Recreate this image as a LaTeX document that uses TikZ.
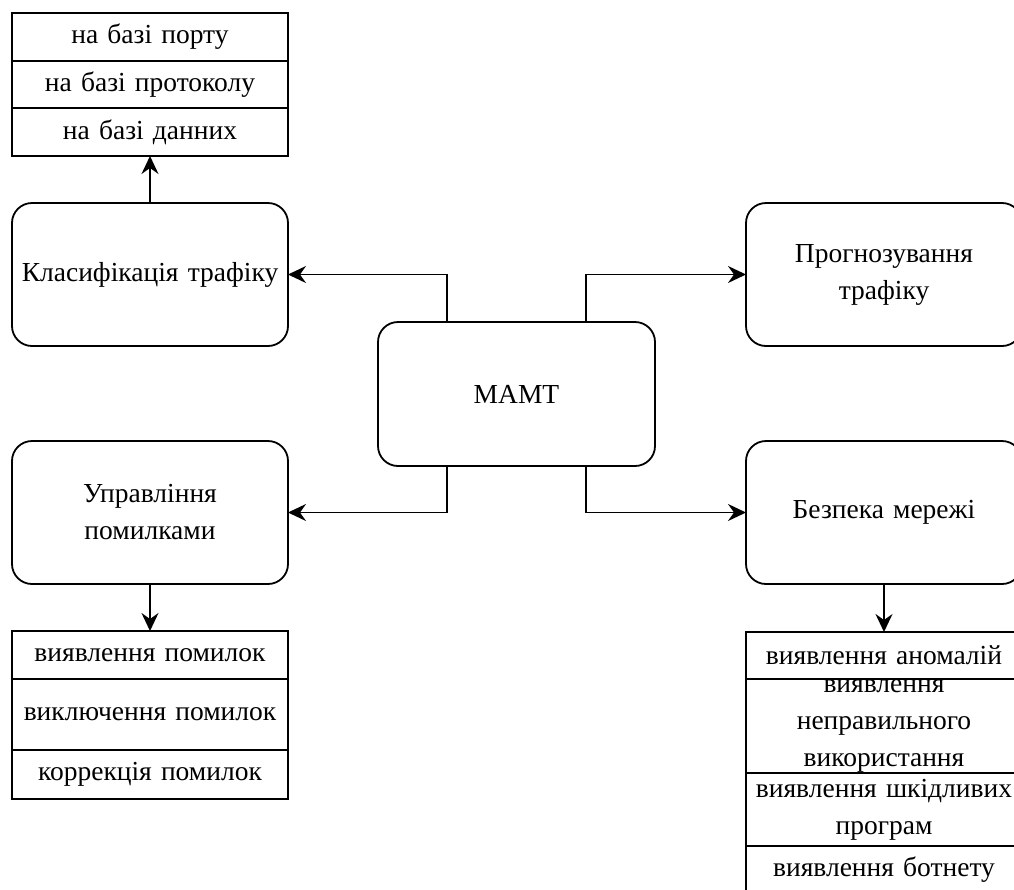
\documentclass[tikz,border=0pt]{standalone}
\usepackage{fontspec}
\setmainfont{Liberation Serif}
\usetikzlibrary{arrows.meta,calc}
\begin{document}
\begin{tikzpicture}[x=1pt,y=-1pt,
  every node/.style={font=\fontsize{27.5}{37}\selectfont,outer sep=0pt},
  lw/.style={line width=1.8pt},
  block/.style={lw,draw,rounded corners=20pt,minimum width=276pt,minimum height=143pt,
    inner sep=0pt,align=center,text width=266pt},
  cell/.style={lw,draw,minimum width=276pt,inner sep=0pt,align=center,text width=272pt,anchor=north west},
  arr/.style={lw,-{Stealth[length=18pt,width=17pt,inset=6pt]}}]
\useasboundingbox (0,0) rectangle (1014,889);
\begin{scope}
\clip (0,0) rectangle (1014,889);

% central node and the four topics around it
\node[block,minimum width=277pt,minimum height=144pt] (m) at (516.5,394) {МАМТ};
\node[block] (cls) at (150,274.5) {Класифікація трафіку};
\node[block] (prg) at (884,274.5) {Прогнозування\\трафіку};
\node[block] (err) at (150,512.5) {Управління\\помилками};
\node[block] (sec) at (884,512.5) {Безпека мережі};

% classification methods
\node[cell,minimum height=48pt] (c1) at (12,13) {на базі порту};
\node[cell,minimum height=47pt] (c2) at (c1.south west) {на базі протоколу};
\node[cell,minimum height=48pt] (c3) at (c2.south west) {на базі данних};

% error management
\node[cell,minimum height=48pt] (e1) at (12,631) {виявлення помилок};
\node[cell,minimum height=71pt] (e2) at (e1.south west) {виключення помилок};
\node[cell,minimum height=49pt] (e3) at (e2.south west) {коррекція помилок};

% network security
\node[cell,minimum height=47pt] (s1) at (746,632) {виявлення аномалій};
\node[cell,minimum height=94pt] (s2) at (s1.south west) {виявлення\\неправильного\\використання};
\node[cell,minimum height=73pt] (s3) at (s2.south west) {виявлення шкідливих\\програм};
\node[cell,minimum height=47pt] (s4) at (s3.south west) {виявлення ботнету};

% connectors
\draw[arr] ($(m.north west)!0.25!(m.north east)$) |- (cls.east);
\draw[arr] ($(m.north west)!0.75!(m.north east)$) |- (prg.west);
\draw[arr] ($(m.south west)!0.25!(m.south east)$) |- (err.east);
\draw[arr] ($(m.south west)!0.75!(m.south east)$) |- (sec.west);
\draw[arr] (cls.north) -- (c3.south);
\draw[arr] (err.south) -- (e1.north);
\draw[arr] (sec.south) -- (s1.north);
\end{scope}
\end{tikzpicture}
\end{document}
